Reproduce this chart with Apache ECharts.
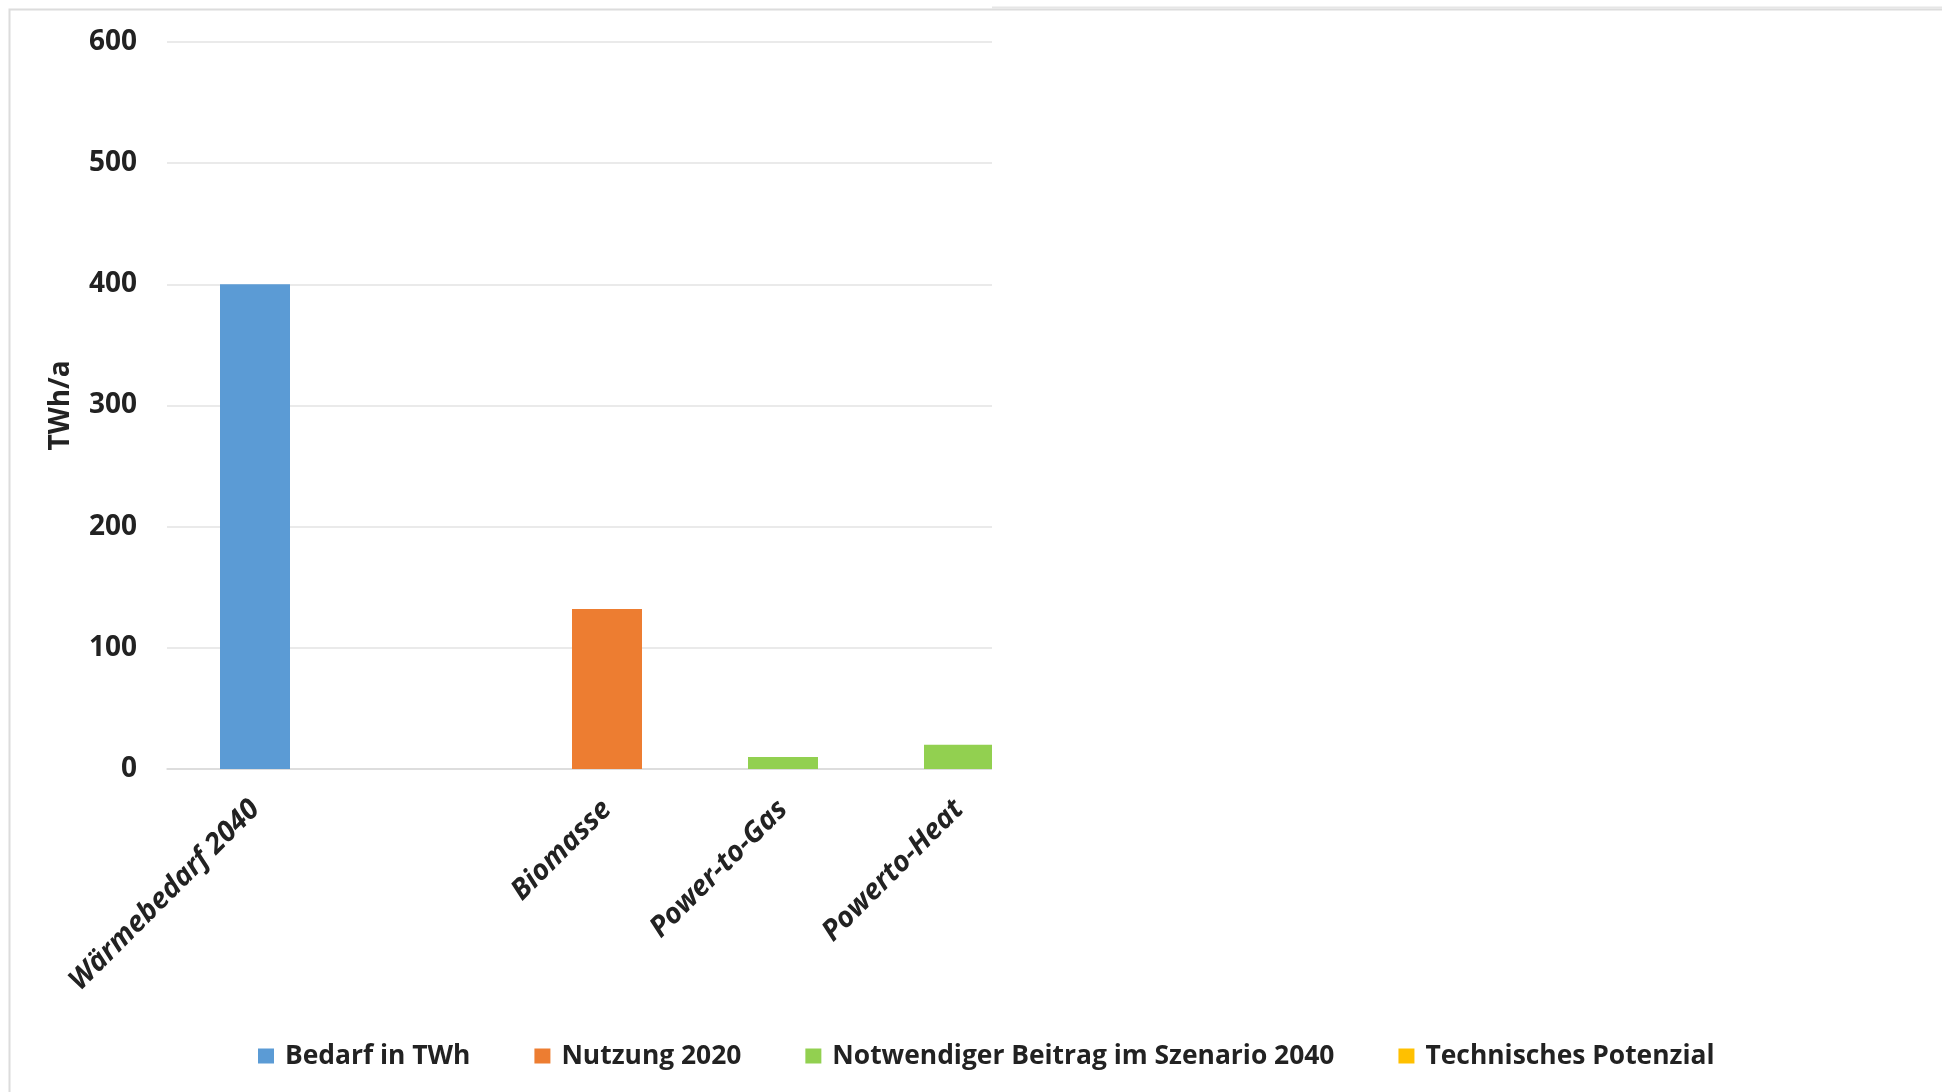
<!DOCTYPE html>
<html lang="de">
  <head>
    <meta charset="utf-8">
    <title>Wärmebedarf 2040</title>
    <script src="https://cdn.jsdelivr.net/npm/echarts@6/dist/echarts.min.js"></script>
    <style>
      html, body { margin: 0; padding: 0; background: #fff; }
    </style>
  </head>
  <body>
    <div id="chart" style="width: 1942px;height:1092px;"></div>
    <script type="text/javascript">
    // Kategorien (die sechste liegt im abgeschnittenen Teil des Bildes)
    var categories = ['Wärmebedarf 2040', '', 'Biomasse', 'Power-to-Gas', 'Powerto-Heat', ''];

    // Werte in TWh/a
    var bedarf    = [400, null, null, null, null, null];
    var nutzung   = [null, null, 132, null, null, null];
    var notwendig = [null, null, null, 10, 20, null];
    var potenzial = [null, null, null, null, null, null];

    var yTicks = [0, 100, 200, 300, 400, 500, 600];

    var seriesNames = ['Bedarf in TWh', 'Nutzung 2020', 'Notwendiger Beitrag im Szenario 2040', 'Technisches Potenzial'];
    var colors = ['#5B9BD5', '#ED7D31', '#92D050', '#FFC000'];

    var chart = echarts.init(document.getElementById('chart'));
    var font = '"Open Sans", "DejaVu Sans", sans-serif';

    function makeSeries(name, data, color) {
        return {
            name: name,
            type: 'bar',
            stack: 'total',
            barWidth: 70,
            itemStyle: { color: color },
            data: data
        };
    }

    var option = {
        backgroundColor: '#fff',
        animation: false,
        textStyle: { fontFamily: font },
        grid: {
            left: 167,
            top: 42,
            width: 1056,
            height: 727,
            containLabel: false
        },
        legend: {
            left: 258,
            top: 1043,
            padding: 0,
            itemWidth: 16,
            itemHeight: 15,
            itemGap: 64,
            icon: 'rect',
            textStyle: {
                fontFamily: font,
                fontWeight: 'bold',
                fontSize: 26.4,
                color: '#222',
                padding: [0, 0, 0, 6]
            },
            data: seriesNames
        },
        xAxis: {
            type: 'category',
            data: categories,
            axisTick: { show: false },
            axisLine: { lineStyle: { color: '#d9d9d9', width: 1.5 } },
            axisLabel: {
                rotate: 45,
                interval: 0,
                margin: 36,
                fontFamily: font,
                fontWeight: 'bold',
                fontStyle: 'italic',
                fontSize: 28.5,
                color: '#222'
            }
        },
        yAxis: {
            type: 'value',
            min: yTicks[0],
            max: yTicks[yTicks.length - 1],
            interval: 100,
            name: 'TWh/a',
            nameLocation: 'middle',
            nameRotate: 90,
            nameGap: 92,
            nameTextStyle: {
                fontFamily: font,
                fontWeight: 'bold',
                fontSize: 28,
                color: '#222'
            },
            axisLine: { show: false },
            axisTick: { show: false },
            splitLine: { lineStyle: { color: '#e3e3e3', width: 1.5 } },
            axisLabel: {
                margin: 30,
                fontFamily: font,
                fontWeight: 'bold',
                fontSize: 28,
                color: '#222'
            }
        },
        graphic: [
            // Rahmen des Diagrammbereichs
            {
                type: 'rect',
                z: 0,
                shape: { x: 9.5, y: 9.5, width: 2000, height: 1200 },
                style: { fill: 'none', stroke: '#dcdcdc', lineWidth: 2 }
            },
            // rechter Teil des Bildes ist abgeschnitten
            {
                type: 'rect',
                z: 100,
                shape: { x: 992, y: 12, width: 960, height: 1010 },
                style: { fill: '#fff' }
            },
            {
                type: 'line',
                z: 101,
                shape: { x1: 992, y1: 7.5, x2: 1942, y2: 7.5 },
                style: { stroke: '#e6e6e6', lineWidth: 2 }
            }
        ],
        series: [
            makeSeries(seriesNames[0], bedarf, colors[0]),
            makeSeries(seriesNames[1], nutzung, colors[1]),
            makeSeries(seriesNames[2], notwendig, colors[2]),
            makeSeries(seriesNames[3], potenzial, colors[3])
        ]
    };

    chart.setOption(option);
    </script>
  </body>
</html>
